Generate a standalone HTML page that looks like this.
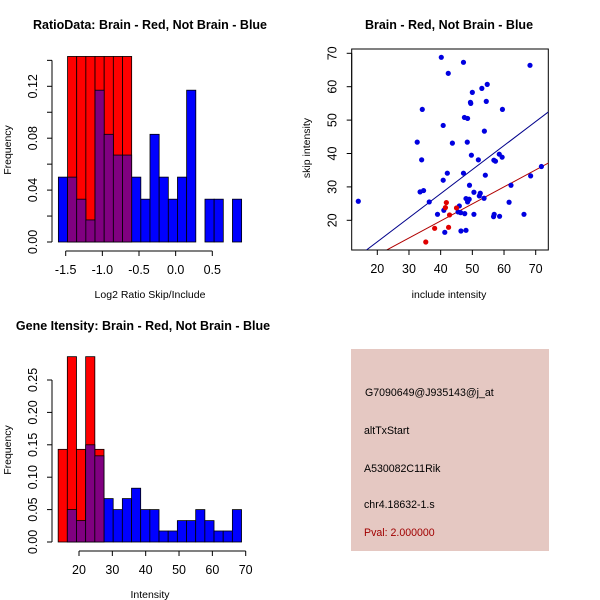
<!DOCTYPE html>
<html><head><meta charset="utf-8"><style>
html,body{margin:0;padding:0;background:#fff;}
svg{display:block;font-family:"Liberation Sans",Arial,sans-serif;}
</style></head><body>
<svg id="chart" width="600" height="600" viewBox="0 0 600 600">
<rect width="600" height="600" fill="#fff"/>
<text x="150" y="29" font-size="12.5" font-weight="bold" text-anchor="middle">RatioData: Brain - Red, Not Brain - Blue</text>
<text x="449" y="29" font-size="12.5" font-weight="bold" text-anchor="middle">Brain - Red, Not Brain - Blue</text>
<text x="143" y="330" font-size="12.5" font-weight="bold" text-anchor="middle">Gene Itensity: Brain - Red, Not Brain - Blue</text>
<g id="p1"></g>
<g id="p2"></g>
<g id="p3"></g>
<g>
<rect x="351" y="349" width="198" height="202" fill="#e5c8c2"/>
<text x="365" y="396" font-size="10.6">G7090649@J935143@j_at</text>
<text x="364" y="434" font-size="10.6">altTxStart</text>
<text x="364" y="472" font-size="10.6">A530082C11Rik</text>
<text x="364" y="508" font-size="10.6">chr4.18632-1.s</text>
<text x="364" y="536" font-size="10.6" fill="#a00000">Pval: 2.000000</text>
</g>
</svg>
<script>
// Ratio histogram data
const ratioBinStart = -1.6;
const ratioBinWidth = 0.125;
const ratioBlue = [0.05,0.05,0.033,0.017,0.117,0.083,0.067,0.067,0.05,0.033,0.083,0.05,0.033,0.05,0.117,0,0.033,0.033,0,0.033];
const ratioRed  = [0,0.143,0.143,0.143,0.143,0.143,0.143,0.143,0,0,0,0,0,0,0,0,0,0,0,0];
const ratioXTicks = [-1.5,-1.0,-0.5,0.0,0.5];
const ratioXLabels = ["-1.5","-1.0","-0.5","0.0","0.5"];
const ratioYTicks = [0,0.02,0.04,0.06,0.08,0.10,0.12,0.14];
const ratioYLabels = ["0.00","","0.04","","0.08","","0.12",""];
// Gene intensity histogram data
const geneBinStart = 13.75;
const geneBinWidth = 2.75;
const geneBlue = [0,0.05,0.033,0.15,0.133,0.067,0.05,0.067,0.083,0.05,0.05,0.017,0.017,0.033,0.033,0.05,0.033,0.017,0.017,0.05];
const geneRed  = [0.143,0.286,0.143,0.286,0.143,0,0,0,0,0,0,0,0,0,0,0,0,0,0,0];
const geneXTicks = [20,30,40,50,60,70];
const geneYTicks = [0,0.05,0.10,0.15,0.20,0.25];
const geneYLabels = ["0.00","0.05","0.10","0.15","0.20","0.25"];
// Scatter data
const blueX = [14,40.2,47.2,42.4,68.2,54.7,53,50,49.4,49.5,54.4,34.2,59.5,47.5,48.5,40.8,53.8,32.6,43.7,48.4,49.7,51.9,34,58.5,59.4,56.8,57.3,47.2,42.1,54.1,40.8,33.5,34.6,36.4,49.1,50.5,52.5,52.2,53.7,48,49,48.5,45.9,41,45.5,46.3,47.6,39,50.5,56.9,56.7,58.6,66.3,68.4,71.8,62.2,61.6,41.3,46.4,48];
const blueY = [25.7,68.8,67.3,64,66.4,60.7,59.5,58.3,55.3,55,55.6,53.2,53.2,50.8,50.5,48.4,46.7,43.4,43.1,43.4,39.5,38.1,38.1,39.8,38.9,38,37.7,34.1,34.1,33.5,32,28.5,28.9,25.5,30.5,28.4,28.1,27.3,26.6,26.5,26.3,25.5,24.3,23,22.5,22.3,22,21.8,21.8,21.8,21.1,21.2,21.8,33.3,36.1,30.5,25.4,16.4,16.8,17];
const redX = [41.8,41.5,45,42.8,38.1,42.5,35.3];
const redY = [25.3,23.8,23.7,21.6,17.6,17.9,13.5];
const blueFit = [-0.83,0.72];
const redFit = [-0.6,0.51];
const scatterXTicks = [20,30,40,50,60,70];
const scatterYTicks = [20,30,40,50,60,70];

const NS="http://www.w3.org/2000/svg";
function mk(parent,tag,attrs){const e=document.createElementNS(NS,tag);for(const k in attrs)e.setAttribute(k,attrs[k]);parent.appendChild(e);return e;}
function lin(d0,d1,r0,r1){return v=>r0+(v-d0)/(d1-d0)*(r1-r0);}

function xAxis(g,sx,ticks,labels,y,title,tx,ty){
  const l=mk(g,'line',{x1:sx(ticks[0]),x2:sx(ticks[ticks.length-1]),y1:y,y2:y,stroke:'#000'});
  
  
  ticks.forEach((t,i)=>{
    mk(g,'line',{x1:sx(t),x2:sx(t),y1:y,y2:y+5,stroke:'#000'});
    const tt=mk(g,'text',{x:sx(t),y:y+23,'font-size':12.5,'text-anchor':'middle'});
    tt.textContent=labels[i];
    
    
  });
  const at=mk(g,'text',{x:tx,y:ty,'font-size':10.5,'text-anchor':'middle'});
  at.textContent=title;
  
  
}
function yAxis(g,sy,ticks,labels,x,title,tx,ty){
  const l=mk(g,'line',{x1:x,x2:x,y1:sy(ticks[0]),y2:sy(ticks[ticks.length-1]),stroke:'#000'});
  
  
  ticks.forEach((t,i)=>{
    mk(g,'line',{x1:x-5,x2:x,y1:sy(t),y2:sy(t),stroke:'#000'});
    if(labels[i]){
      const lx=x-15;
      const tt=mk(g,'text',{x:lx,y:sy(t),'font-size':12.5,'text-anchor':'middle',transform:`rotate(-90 ${lx} ${sy(t)})`});
      tt.textContent=labels[i];
      
      
    }
  });
  const at=mk(g,'text',{x:tx,y:ty,'font-size':10.5,'text-anchor':'middle',transform:`rotate(-90 ${tx} ${ty})`});
  at.textContent=title;
  
  
}
function hist(g,sx,sy,start,w,red,blue){
  const y0=sy(0);
  function bar(x0,v,fill,name){
    if(v<=0)return;
    const r=mk(g,'rect',{x:sx(x0),y:sy(v),width:sx(x0+w)-sx(x0),height:y0-sy(v),fill:fill,stroke:'#000','stroke-width':0.8});
    
    
  }
  red.forEach((v,i)=>bar(start+i*w,v,'#ff0000','red-bar'));
  blue.forEach((v,i)=>{ if(red[i]>0) return; bar(start+i*w,v,'#0000ff','blue-bar'); });
  blue.forEach((v,i)=>{ if(red[i]>0) bar(start+i*w,Math.min(v,red[i]),'#800080','overlap-bar'); });
}

// Plot 1
(function(){
  const g=document.getElementById('p1');
  const sx=lin(-1.5,0.5,65.7,212.3), sy=lin(0,0.12,242,86.3);
  hist(g,sx,sy,ratioBinStart,ratioBinWidth,ratioRed,ratioBlue);
  xAxis(g,sx,ratioXTicks,ratioXLabels,251,'Log2 Ratio Skip/Include',150,298);
  yAxis(g,sy,ratioYTicks,ratioYLabels,52,'Frequency',11,150);
})();
// Plot 3
(function(){
  const g=document.getElementById('p3');
  const sx=lin(20,70,79,245.7), sy=lin(0,0.25,542,380);
  hist(g,sx,sy,geneBinStart,geneBinWidth,geneRed,geneBlue);
  xAxis(g,sx,geneXTicks,geneXTicks.map(String),551,'Intensity',150,598);
  yAxis(g,sy,geneYTicks,geneYLabels,52,'Frequency',11,450);
})();
// Plot 2
(function(){
  const g=document.getElementById('p2');
  const sx=lin(20,70,377.3,535.7), sy=lin(20,70,220.3,53.3);
  const xmin=11.9,xmax=74,ymin=11.1,ymax=71.3;
  mk(g,'defs',{}).innerHTML='<clipPath id="pc"><rect x="351.7" y="49" width="196.6" height="201"/></clipPath>';
  const fr=mk(g,'rect',{x:351.7,y:49,width:196.6,height:201,fill:'none',stroke:'#000'});
  
  
  const cg=mk(g,'g',{'clip-path':'url(#pc)'});
  [[blueFit,'#00008b','blue-fit-line'],[redFit,'#b00000','red-fit-line']].forEach(([f,c,n])=>{
    const l=mk(cg,'line',{x1:sx(xmin),y1:sy(f[0]+f[1]*xmin),x2:sx(xmax),y2:sy(f[0]+f[1]*xmax),stroke:c,'stroke-width':1});
    
    
  });
  blueX.forEach((x,i)=>{
    const c=mk(cg,'circle',{cx:sx(x),cy:sy(blueY[i]),r:2.6,fill:'#0000e0'});
    
    
  });
  redX.forEach((x,i)=>{
    const c=mk(cg,'circle',{cx:sx(x),cy:sy(redY[i]),r:2.6,fill:'#e00000'});
    
    
  });
  xAxis(g,sx,scatterXTicks,scatterXTicks.map(String),250,'include intensity',449,298);
  yAxis(g,sy,scatterYTicks,scatterYTicks.map(String),351.7,'skip intensity',310,148);
})();
</script>
</body></html>
